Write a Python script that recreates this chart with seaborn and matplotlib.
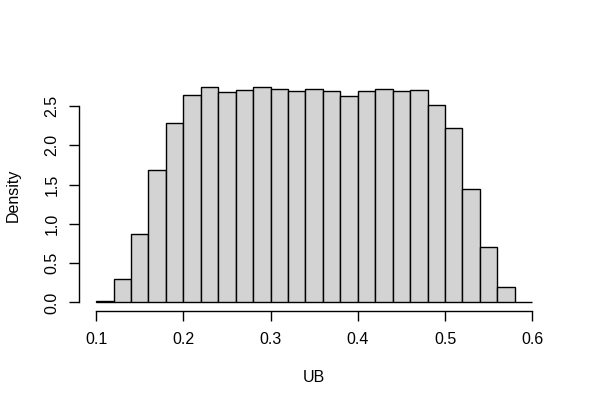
import numpy as np
import pandas as pd
import seaborn as sns
import matplotlib
matplotlib.use("Agg")
import matplotlib.pyplot as plt

# Histogram of UB (density scale), breaks every 0.02 from 0.10 to 0.60
breaks = [round(0.10 + 0.02 * i, 2) for i in range(26)]
density = [0.02, 0.30, 0.876, 1.68, 2.28, 2.636, 2.738, 2.675, 2.70, 2.738,
           2.713, 2.687, 2.713, 2.687, 2.624, 2.687, 2.713, 2.687, 2.70, 2.509,
           2.215, 1.45, 0.70, 0.20, 0.0]
x_ticks = [0.1, 0.2, 0.3, 0.4, 0.5, 0.6]
y_ticks = [0.0, 0.5, 1.0, 1.5, 2.0, 2.5]
x_label = "UB"
y_label = "Density"

centers = [(breaks[i] + breaks[i + 1]) / 2 for i in range(len(breaks) - 1)]
df = pd.DataFrame({"UB": centers, "w": density})

sns.set_theme(style="ticks")
plt.rcParams["font.family"] = ["Liberation Sans", "DejaVu Sans"]

W, H, DPI = 590, 409, 100
fig = plt.figure(figsize=(W / DPI, H / DPI), dpi=DPI)
left, right, top, bottom = 78.7, 549.7, 78.7, 311.1
ax = fig.add_axes([left / W, 1 - bottom / H, (right - left) / W, (bottom - top) / H])

sns.histplot(data=df, x="UB", weights="w", bins=breaks, stat="count",
             color="#D3D3D3", edgecolor="black", linewidth=1.0, alpha=1.0, ax=ax)

ymax = max(density)
xr = breaks[-1] - breaks[0]
ax.set_xlim(breaks[0] - 0.04 * xr, breaks[-1] + 0.04 * xr)
ax.set_ylim(-0.04 * ymax, ymax * 1.04)

for s in ["top", "right"]:
    ax.spines[s].set_visible(False)
ax.spines["left"].set_bounds(y_ticks[0], y_ticks[-1])
ax.spines["bottom"].set_bounds(x_ticks[0], x_ticks[-1])
for s in ["left", "bottom"]:
    ax.spines[s].set_linewidth(1.0)
    ax.spines[s].set_color("black")

ax.set_xticks(x_ticks)
ax.set_xticklabels([f"{v:.1f}" for v in x_ticks])
ax.set_yticks(y_ticks)
ax.set_yticklabels([f"{v:.1f}" for v in y_ticks], rotation=90, va="center")
ax.tick_params(axis="both", length=6.9, width=1.0, color="black",
               labelsize=11.5, labelcolor="black", direction="out")
ax.tick_params(axis="x", pad=8)
ax.tick_params(axis="y", pad=7)

ax.set_xlabel(x_label, fontsize=11.5, color="black")
ax.set_ylabel(y_label, fontsize=11.5, color="black")
ax.xaxis.set_label_coords((left + right) / 2 / W, 1 - 378 / H, transform=fig.transFigure)
ax.yaxis.set_label_coords(13 / W, 1 - (top + bottom) / 2 / H, transform=fig.transFigure)
ax.xaxis.label.set_va("center")
ax.yaxis.label.set_va("center")
ax.grid(False)
ax.set_facecolor("white")
fig.patch.set_facecolor("white")

fig.savefig("out.png", dpi=DPI)
